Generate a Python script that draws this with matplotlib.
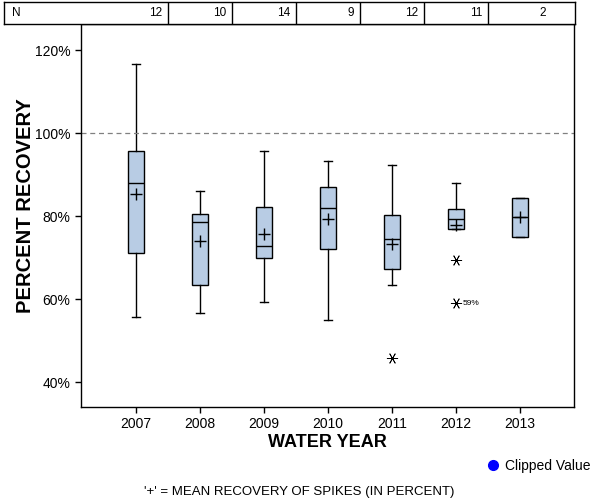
import numpy as np
import matplotlib
matplotlib.use('Agg')
import matplotlib.pyplot as plt
from matplotlib.lines import Line2D

plt.rcParams['font.family'] = ['Liberation Sans', 'DejaVu Sans']

# values
years = ['2007', '2008', '2009', '2010', '2011', '2012', '2013']
n_counts = [12, 10, 14, 9, 12, 11, 2]
whisker_low = [55.6, 56.6, 59.4, 54.9, 63.3, 76.8, 74.9]
q1 = [71.0, 63.5, 70.0, 72.0, 67.2, 76.8, 74.9]
medians = [87.9, 78.5, 72.9, 81.9, 74.6, 79.2, 79.7]
q3 = [95.6, 80.4, 82.1, 86.9, 80.2, 81.6, 84.3]
whisker_high = [116.6, 86.0, 95.8, 93.4, 92.2, 87.9, 84.3]
means = [85.4, 74.1, 75.8, 79.3, 73.2, 77.8, 79.7]
outliers = [[], [], [], [], [45.9], [69.4, 59.0], []]
outlier_labels = {5: (59.0, '59%')}
y_ticks = [40, 60, 80, 100, 120]

box_fill = '#b8cce4'
pos = np.arange(1, len(years) + 1)

fig = plt.figure(figsize=(6, 5), dpi=100)
ax = fig.add_axes([81/600, 1 - 407/500, 493/600, 383/500])

stats = []
for i in range(len(years)):
    stats.append(dict(med=medians[i], q1=q1[i], q3=q3[i],
                      whislo=whisker_low[i], whishi=whisker_high[i],
                      mean=means[i], fliers=outliers[i], label=years[i]))

ax.bxp(stats, positions=pos, widths=0.235, capwidths=0.11,
       showmeans=True, patch_artist=True,
       boxprops=dict(facecolor=box_fill, edgecolor='black', linewidth=1),
       medianprops=dict(color='black', linewidth=1),
       whiskerprops=dict(color='black', linewidth=1),
       capprops=dict(color='black', linewidth=1),
       meanprops=dict(marker='+', markeredgecolor='black', markersize=8,
                      markeredgewidth=1),
       flierprops=dict(marker=(6, 2, 90), markeredgecolor='black',
                       markersize=8, markeredgewidth=0.6, linestyle='none'))

for i, (val, txt) in outlier_labels.items():
    ax.text(pos[i] + 0.11, val, txt, fontsize=6, va='center', ha='left')

ax.axhline(100, color='gray', linestyle=(0, (4, 3)), linewidth=0.9)

ax.set_xlim(1 - 55/64, 7 + 54/64)
ax.set_ylim(34.0, 126.3)
ax.set_yticks(y_ticks)
ax.set_yticklabels([f'{v}%' for v in y_ticks])
ax.set_xticks(pos)
ax.set_xticklabels(years)
ax.tick_params(direction='out', length=4, width=1, labelsize=10)
for s in ax.spines.values():
    s.set_linewidth(1)

ax.set_xlabel('WATER YEAR', fontsize=13, fontweight='bold', labelpad=2)
ax.set_ylabel('PERCENT RECOVERY', fontsize=14.5, fontweight='bold')
ax.yaxis.set_label_coords(-0.093, 0.527)

# N table on top
tab = fig.add_axes([4/600, 1 - 24/500, 571/600, 22/500])
tab.set_xlim(1 - 132/64, 7 + 55/64)
tab.set_ylim(0, 1)
tab.set_xticks([])
tab.set_yticks([])
for s in tab.spines.values():
    s.set_linewidth(1)
for p in pos[:-1]:
    tab.axvline(p + 0.5, color='black', linewidth=1)
tab.text(1 - 124/64, 0.5, 'N', fontsize=8.5, va='center', ha='left')
for p, n in zip(pos, n_counts):
    tab.text(p + 0.5 - 6/64, 0.5, str(n), fontsize=8.5, va='center', ha='right')

# legend and footnote
handle = Line2D([], [], marker='o', color='blue', linestyle='none', markersize=7)
fig.legend([handle], ['Clipped Value'], loc='center right',
           bbox_to_anchor=(0.995, 1 - 466/500), frameon=False, fontsize=10,
           handletextpad=0.3, borderpad=0, handlelength=1)
fig.text(299/600, 1 - 492/500, "'+' = MEAN RECOVERY OF SPIKES (IN PERCENT)",
         fontsize=9.5, ha='center', va='center')

fig.savefig('out.png', dpi=100)
